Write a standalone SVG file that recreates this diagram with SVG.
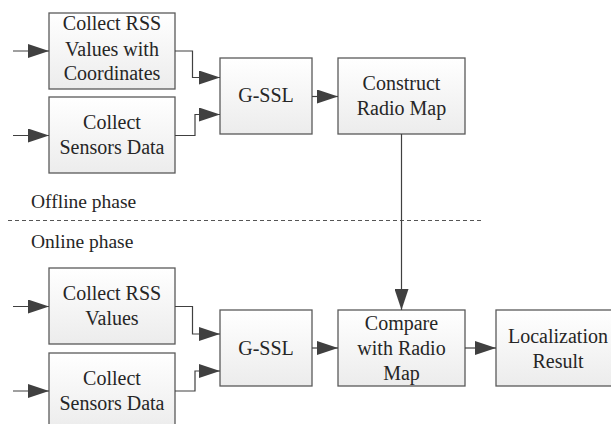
<svg xmlns="http://www.w3.org/2000/svg" width="611" height="424" viewBox="0 0 611 424">
<defs>
<linearGradient id="g" x1="0" y1="0" x2="0" y2="1">
<stop offset="0" stop-color="#ffffff"/>
<stop offset="1" stop-color="#ececec"/>
</linearGradient>
<marker id="ah" markerUnits="userSpaceOnUse" markerWidth="21" markerHeight="14" refX="21" refY="7" orient="auto">
<path d="M0,0 L21,7 L0,14 Z" fill="#404040"/>
</marker>
<style>
.box{fill:url(#g);stroke:#5a5a5a;stroke-width:1.3}
.t{font-size:20px;text-anchor:middle;fill:#262626}
.p{font-size:19.5px;fill:#262626}
.c{fill:none;stroke:#404040;stroke-width:1.2;marker-end:url(#ah)}
.d{fill:none;stroke:#555;stroke-width:1;stroke-dasharray:4 3}
</style>
</defs>
<rect width="611" height="424" fill="#ffffff"/>

<g font-family="'Liberation Serif', serif">
<g id="labels">
<text class="p" x="31" y="208">Offline phase</text>
<line class="d" x1="8" y1="220.5" x2="481" y2="220.5"/>
<text class="p" x="31" y="248">Online phase</text>
</g>

<g id="off-rss">
<rect class="box" x="49" y="13" width="126" height="76"/>
<text class="t" x="112" y="30">Collect RSS</text>
<text class="t" x="112" y="55.5">Values with</text>
<text class="t" x="112" y="80">Coordinates</text>
</g>
<g id="off-sensors">
<rect class="box" x="49" y="97" width="126" height="76"/>
<text class="t" x="112" y="128.5">Collect</text>
<text class="t" x="112" y="153.5">Sensors Data</text>
</g>
<g id="off-gssl">
<rect class="box" x="220" y="58" width="92" height="76"/>
<text class="t" x="266" y="102">G-SSL</text>
</g>
<g id="construct">
<rect class="box" x="338" y="58" width="127" height="76"/>
<text class="t" x="401.5" y="90">Construct</text>
<text class="t" x="401.5" y="115">Radio Map</text>
</g>

<g id="on-rss">
<rect class="box" x="49" y="268" width="126" height="76"/>
<text class="t" x="112" y="300">Collect RSS</text>
<text class="t" x="112" y="325">Values</text>
</g>
<g id="on-sensors">
<rect class="box" x="49" y="353" width="126" height="76"/>
<text class="t" x="112" y="385">Collect</text>
<text class="t" x="112" y="410">Sensors Data</text>
</g>
<g id="on-gssl">
<rect class="box" x="220" y="310" width="92" height="76"/>
<text class="t" x="266" y="355">G-SSL</text>
</g>
<g id="compare">
<rect class="box" x="338" y="310" width="127" height="76"/>
<text class="t" x="401.5" y="329.5">Compare</text>
<text class="t" x="401.5" y="354.5">with Radio</text>
<text class="t" x="401.5" y="380">Map</text>
</g>
<g id="result">
<rect class="box" x="496" y="310" width="125" height="76"/>
<text class="t" x="558" y="342.5">Localization</text>
<text class="t" x="558" y="367.5">Result</text>
</g>
</g>

<g id="connectors">
<path class="c" d="M13,51 H49"/>
<path class="c" d="M13,135.5 H49"/>
<path class="c" d="M175,51 H192.5 V77.5 H220"/>
<path class="c" d="M175,135.5 H195 V114.5 H220"/>
<path class="c" d="M312,96.5 H338"/>
<path class="c" d="M401.5,134 V310"/>
<path class="c" d="M13,306.5 H49"/>
<path class="c" d="M13,391 H49"/>
<path class="c" d="M175,306.5 H192.5 V334 H220"/>
<path class="c" d="M175,391 H195 V371 H220"/>
<path class="c" d="M312,348 H338"/>
<path class="c" d="M465,348 H496"/>
</g>
</svg>
